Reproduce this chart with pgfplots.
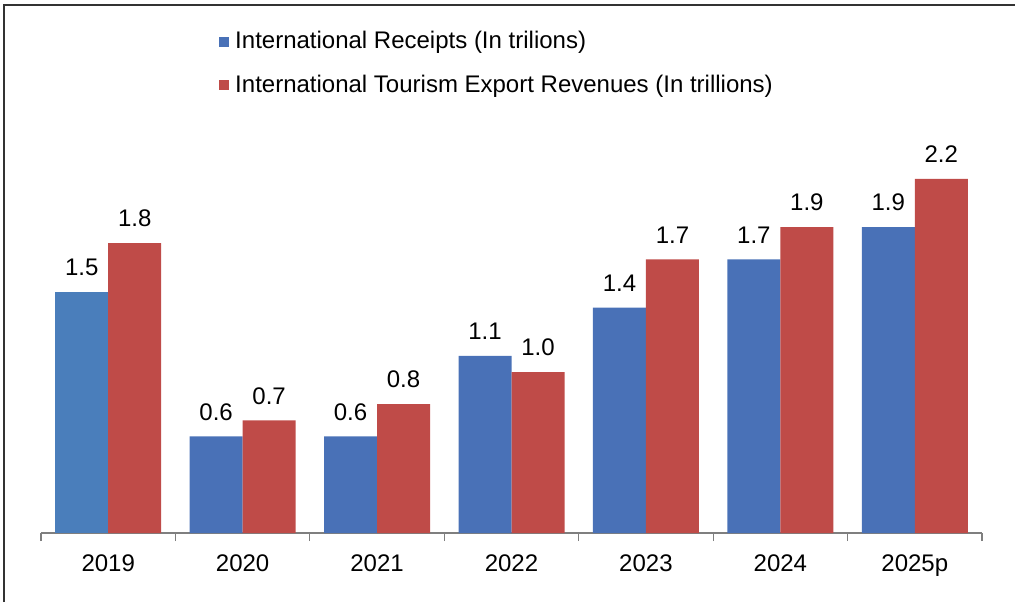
\documentclass[border=0pt]{standalone}
\usepackage{fontspec}
\setmainfont{Liberation Sans}
\usepackage{pgfplots}
\pgfplotsset{compat=1.18}

\definecolor{barblue}{HTML}{4971B7}
\definecolor{barblueA}{HTML}{4A7EBB}
\definecolor{barred}{HTML}{BF4B48}
\definecolor{axgray}{HTML}{7F7F7F}

\begin{document}
\begin{tikzpicture}
    \pgfplotsset{
        sq legend/.style={
                legend image code/.code={\fill[##1] (0pt,-2.5pt) rectangle (5pt,2.5pt); \path (7pt,0pt);}
            },
    }
    % picture size: 1015 x 602 px at 0.5pt per px
    \useasboundingbox (-20.5pt,-34.5pt) rectangle (487pt,266.5pt);
    \draw[line width=1pt, black!80] (-18.5pt,-34.5pt) -- (-18.5pt,264pt) -- (487pt,264pt);

    \begin{axis}[
            at={(0,0)}, anchor=south west,
            scale only axis,
            width=470.5pt,
            height=257.6pt,
            ymin=0, ymax=3.2,
            xmin=-0.5, xmax=6.5,
            ybar, bar width=26.5pt,
            axis x line*=bottom,
            axis y line=none,
            axis line style={draw=axgray, line width=0.6pt},
            xtick={0,1,2,3,4,5,6},
            xticklabels={2019, 2020, 2021, 2022, 2023, 2024, 2025p},
            major tick length=0pt,
            minor xtick={-0.5,0.5,1.5,2.5,3.5,4.5,5.5,6.5},
            minor tick length=4pt,
            tick align=outside,
            minor x tick style={draw=axgray, line width=0.6pt},
            x tick label style={font=\fontsize{12}{14.4}\selectfont, yshift=-7.5pt},
            nodes near coords,
            every node near coord/.append style={font=\fontsize{12}{14.4}\selectfont, yshift=4.5pt, black,
                    /pgf/number format/.cd, fixed, fixed zerofill, precision=1, assume math mode=true},
            clip=false,
            legend cell align=left,
            legend style={
                    at={(0.189,0.978)}, anchor=north west,
                    draw=none, fill=none, inner sep=0pt,
                    row sep=9.5pt,
                    nodes={inner sep=1pt, anchor=west},
                    font=\fontsize{12}{14.4}\selectfont,
                },
        ]
        % International Receipts
        \addplot[fill=barblue, draw=none, bar shift=-13.25pt, sq legend] coordinates {
                (1, 0.6) (2, 0.6) (3, 1.1) (4, 1.4) (5, 1.7) (6, 1.9)
            };
        % Tourism Export Revenues
        \addplot[fill=barred, draw=none, bar shift=13.25pt, sq legend] coordinates {
                (0, 1.8) (1, 0.7) (2, 0.8) (3, 1.0) (4, 1.7) (5, 1.9) (6, 2.2)
            };
        % 2019 receipts bar, slightly lighter blue
        \addplot[fill=barblueA, draw=none, bar shift=-13.25pt, forget plot] coordinates {
                (0, 1.5)
            };
        \legend{International Receipts (In trilions), International Tourism Export Revenues (In trillions)}
    \end{axis}
\end{tikzpicture}
\end{document}
